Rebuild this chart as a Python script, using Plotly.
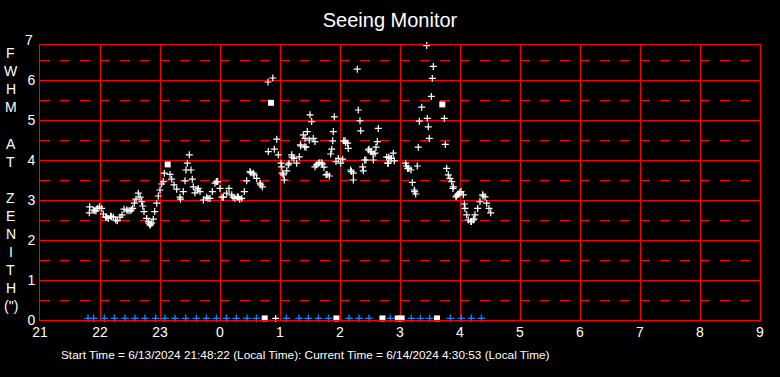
import plotly.graph_objects as go

# ---------------- data ----------------
# x: local time in hours, counted on from 21:00 (24 = midnight, 28.5 = 4:30)
x_tickvals = [21, 22, 23, 24, 25, 26, 27, 28, 29, 30, 31, 32, 33]
x_ticktext = ["21", "22", "23", "0", "1", "2", "3", "4", "5", "6", "7", "8", "9"]
y_tickvals = [0, 1, 2, 3, 4, 5, 6]
y_ticktext = ["0", "1", "2", "3", "4", "5", "6"]
y_minorvals = [0.5, 1.5, 2.5, 3.5, 4.5, 5.5, 6.5]

# FWHM measurements (arcsec) drawn as "+"
fwhm_time = [
    21.822, 21.828, 21.888, 21.912, 21.933, 21.955, 21.988, 22.028, 22.055, 22.095,
    22.112, 22.138, 22.178, 22.190, 22.222, 22.262, 22.288, 22.333, 22.367, 22.400,
    22.445, 22.467, 22.500, 22.523, 22.545, 22.572, 22.600, 22.638, 22.667, 22.695,
    22.712, 22.733, 22.778, 22.805, 22.817, 22.833, 22.840, 22.862, 22.888, 22.912,
    22.945, 22.972, 23.000, 23.028, 23.055, 23.072, 23.167, 23.195, 23.233, 23.278,
    23.333, 23.342, 23.388, 23.417, 23.433, 23.455, 23.488, 23.517, 23.538, 23.555,
    23.583, 23.623, 23.638, 23.667, 23.722, 23.778, 23.800, 23.833, 23.872, 23.917,
    23.940, 23.962, 24.000, 24.033, 24.055, 24.112, 24.150, 24.195, 24.217, 24.250,
    24.290, 24.305, 24.328, 24.362, 24.405, 24.445, 24.500, 24.512, 24.555, 24.568,
    24.612, 24.667, 24.678, 24.705, 24.800, 24.805, 24.880, 24.905, 24.928, 24.945,
    24.972, 25.017, 25.028, 25.038, 25.055, 25.072, 25.112, 25.138, 25.150, 25.195,
    25.200, 25.233, 25.278, 25.322, 25.340, 25.345, 25.388, 25.412, 25.417, 25.433,
    25.455, 25.488, 25.500, 25.528, 25.555, 25.583, 25.583, 25.607, 25.638, 25.662,
    25.695, 25.707, 25.733, 25.767, 25.785, 25.822, 25.845, 25.862, 25.878, 25.888,
    25.905, 25.933, 25.972, 26.012, 26.045, 26.062, 26.083, 26.095, 26.128, 26.138,
    26.178, 26.190, 26.222, 26.222, 26.288, 26.305, 26.333, 26.345, 26.378, 26.388,
    26.412, 26.433, 26.472, 26.483, 26.512, 26.523, 26.550, 26.555, 26.583, 26.600,
    26.622, 26.638, 26.778, 26.795, 26.805, 26.812, 26.833, 26.857, 26.888, 26.905,
    27.095, 27.107, 27.128, 27.145, 27.183, 27.205, 27.238, 27.245, 27.262, 27.288,
    27.305, 27.322, 27.362, 27.445, 27.455, 27.472, 27.488, 27.522, 27.538, 27.555,
    27.738, 27.755, 27.778, 27.805, 27.833, 27.862, 27.883, 27.888, 27.933, 27.940,
    27.957, 27.972, 27.995, 28.017, 28.055, 28.072, 28.083, 28.112, 28.138, 28.183,
    28.190, 28.222, 28.233, 28.250, 28.295, 28.333, 28.378, 28.383, 28.417, 28.445,
    28.483, 28.512,
]
fwhm_value = [
    2.68, 2.83, 2.75, 2.73, 2.73, 2.79, 2.83, 2.79, 2.65, 2.57,
    2.57, 2.54, 2.60, 2.58, 2.57, 2.50, 2.48, 2.57, 2.63, 2.77,
    2.75, 2.73, 2.73, 2.75, 2.79, 2.92, 3.02, 3.17, 3.07, 2.96,
    2.85, 2.71, 2.54, 2.46, 2.42, 2.38, 2.38, 2.42, 2.52, 2.71,
    2.92, 3.10, 3.25, 3.40, 3.46, 3.67, 3.64, 3.52, 3.38, 3.27,
    3.07, 3.02, 3.21, 3.48, 3.75, 3.92, 4.13, 3.75, 3.52, 3.33,
    3.18, 3.25, 3.29, 3.21, 3.00, 3.07, 3.04, 3.04, 3.21, 3.42,
    3.46, 3.46, 3.29, 3.07, 3.07, 3.17, 3.29, 3.13, 3.07, 3.04,
    3.08, 3.07, 3.02, 3.04, 3.21, 3.48, 3.71, 3.68, 3.67, 3.63,
    3.54, 3.42, 3.38, 3.33, 5.95, 4.21, 6.05, 4.27, 0.04, 4.52,
    4.13, 3.92, 3.83, 3.67, 3.63, 3.50, 3.73, 3.88, 3.92, 4.13,
    4.07, 4.04, 3.92, 4.08, 4.38, 4.35, 4.63, 4.33, 4.54, 4.32,
    4.71, 4.50, 5.13, 4.96, 4.54, 4.46, 3.83, 3.88, 3.92, 3.93,
    3.93, 3.90, 3.82, 3.63, 3.64, 3.60, 4.15, 4.27, 4.48, 4.71,
    5.08, 3.96, 4.04, 3.92, 4.02, 4.48, 4.48, 4.43, 4.42, 4.29,
    3.75, 3.71, 3.67, 3.50, 6.27, 5.25, 4.98, 4.73, 3.83, 3.73,
    4.00, 4.00, 4.25, 4.27, 4.21, 4.21, 4.15, 4.00, 4.17, 4.32,
    4.46, 4.79, 4.07, 3.92, 3.92, 4.07, 4.04, 4.04, 4.17, 3.98,
    3.92, 3.85, 3.79, 3.79, 3.75, 3.44, 3.25, 3.21, 3.15, 3.85,
    4.32, 4.97, 5.32, 6.86, 5.04, 4.83, 4.54, 5.59, 6.04, 6.34,
    5.04, 4.39, 3.79, 3.63, 3.54, 3.46, 3.29, 3.33, 3.08, 3.10,
    3.13, 3.15, 3.18, 3.21, 3.13, 2.90, 2.79, 2.63, 2.50, 2.46,
    2.46, 2.50, 2.52, 2.63, 2.79, 2.96, 3.13, 3.10, 3.08, 2.92,
    2.79, 2.68,
]

# FWHM measurements drawn as filled squares
square_time = [23.128, 24.850, 27.705]
square_value = [3.89, 5.43, 5.39]

# failed measurements (drawn on the zero line as white squares)
failed_time = [24.745, 25.940, 26.707, 26.962, 27.028, 27.617]
failed_value = [0.04, 0.04, 0.04, 0.04, 0.04, 0.04]

# status markers along the bottom (blue "+")
status_low_time = [
    21.800, 21.895, 22.073, 22.240, 22.417, 22.583, 22.750, 22.928, 23.083, 23.250,
    23.428, 23.607, 23.773, 23.940, 24.107, 24.273, 24.450, 24.607, 25.107, 25.317,
    25.473, 25.640, 25.807, 26.150, 26.317, 26.483, 26.840, 27.190, 27.340, 27.495,
    27.840, 28.023, 28.190, 28.357,
]
status_low_value = [
    0.04, 0.04, 0.04, 0.04, 0.04, 0.04, 0.04, 0.04, 0.04, 0.04,
    0.04, 0.04, 0.04, 0.04, 0.04, 0.04, 0.04, 0.04, 0.04, 0.04,
    0.04, 0.04, 0.04, 0.04, 0.04, 0.04, 0.04, 0.04, 0.04, 0.04,
    0.04, 0.04, 0.04, 0.04,
]

# status markers along the top (blue bars)
status_high_time = [
    21.895, 22.062, 22.228, 22.395, 22.562, 22.728, 22.895, 23.062, 23.228, 23.395,
    23.562, 23.728, 23.895, 24.062, 24.228, 24.395, 24.562, 24.728, 24.895, 25.062,
    25.228, 25.395, 25.562, 25.728, 25.895, 26.062, 26.228, 26.395, 26.562, 26.728,
    26.895, 27.062, 27.228, 27.395, 27.562, 27.728, 27.895, 28.062, 28.228, 28.405,
]
status_high_value = [
    6.94, 6.94, 6.94, 6.94, 6.94, 6.94, 6.94, 6.94, 6.94, 6.94,
    6.94, 6.94, 6.94, 6.94, 6.94, 6.94, 6.94, 6.94, 6.94, 6.94,
    6.94, 6.94, 6.94, 6.94, 6.94, 6.94, 6.94, 6.94, 6.94, 6.94,
    6.94, 6.94, 6.94, 6.94, 6.94, 6.94, 6.94, 6.94, 6.94, 6.94,
]

title_text = "Seeing Monitor"
y_title_letters = ["F", "W", "H", "M", "", "A", "T", "", "Z", "E", "N", "I", "T", "H", "(\")"]
footer_text = ("Start Time = 6/13/2024 21:48:22 (Local Time): "
               "Current Time = 6/14/2024 4:30:53 (Local Time)")

# ---------------- style ----------------
FONT = "Arial, Liberation Sans, sans-serif"
RED = "#ff0000"
BLUE = "#0a84ff"
WHITE = "#ffffff"
Y_TOP = 6.875
W, H = 780, 377
ML, MR, MT, MB = 40, 20, 45, 57
PLOT_H = H - MT - MB

fig = go.Figure()

fig.add_trace(go.Scatter(
    x=status_high_time, y=status_high_value, mode="markers", cliponaxis=False,
    marker=dict(symbol="line-ew", size=9.5, line=dict(width=5, color=BLUE)),
    hoverinfo="skip"))

fig.add_trace(go.Scatter(
    x=status_low_time, y=status_low_value, mode="markers", cliponaxis=False,
    marker=dict(symbol="cross-thin", size=5.5, line=dict(width=1.4, color=BLUE)),
    hoverinfo="skip"))

fig.add_trace(go.Scatter(
    x=fwhm_time, y=fwhm_value, mode="markers", cliponaxis=False,
    marker=dict(symbol="cross-thin", size=5, line=dict(width=1.2, color=WHITE)),
    hoverinfo="skip"))

fig.add_trace(go.Scatter(
    x=square_time + failed_time, y=square_value + failed_value, mode="markers",
    cliponaxis=False,
    marker=dict(symbol="square", size=6, color=WHITE, line=dict(width=0)),
    hoverinfo="skip"))

fig.update_layout(
    width=W, height=H,
    margin=dict(l=ML, r=MR, t=MT, b=MB, autoexpand=False),
    paper_bgcolor="black", plot_bgcolor="black",
    showlegend=False,
    font=dict(family=FONT, color=WHITE),
    title=dict(text=title_text, x=0.5, xref="container", xanchor="center",
               y=1 - 20 / H, yref="container", yanchor="middle",
               font=dict(family=FONT, size=20, color=WHITE)),
    xaxis=dict(range=[21, 33], tickmode="array", tickvals=x_tickvals, ticktext=x_ticktext,
               showgrid=True, gridcolor=RED, gridwidth=1, zeroline=False,
               showline=True, linecolor=RED, linewidth=1, mirror=True,
               ticks="", tickfont=dict(family=FONT, size=14, color=WHITE),
               ticklabelstandoff=-1),
    yaxis=dict(range=[0, Y_TOP], tickmode="array", tickvals=y_tickvals, ticktext=y_ticktext,
               showgrid=True, gridcolor=RED, gridwidth=1, zeroline=False,
               showline=True, linecolor=RED, linewidth=1, mirror=True,
               ticks="", tickfont=dict(family=FONT, size=14, color=WHITE),
               ticklabelstandoff=1,
               minor=dict(tickmode="array", tickvals=y_minorvals, showgrid=True,
                          gridcolor=RED, gridwidth=1, griddash="10px,10px", ticks="")),
)

# "7" tick label sits above the plotting area
fig.add_annotation(text="7", xref="paper", yref="paper", x=0, y=7 / Y_TOP,
                   xanchor="right", yanchor="middle", xshift=-5, showarrow=False,
                   font=dict(family=FONT, size=14, color=WHITE))

# vertical axis title, one letter per line (18 px apart)
for i, letter in enumerate(y_title_letters):
    if not letter:
        continue
    py = 53.3 + 18.05 * i
    fig.add_annotation(text=letter, xref="paper", yref="paper",
                       x=(11 - ML) / (W - ML - MR), y=(H - MB - py) / PLOT_H,
                       xanchor="center", yanchor="middle", showarrow=False,
                       font=dict(family=FONT, size=14, color=WHITE))

fig.add_annotation(text=footer_text, xref="paper", yref="paper",
                   x=(59 - ML) / (W - ML - MR), y=(H - MB - 355) / PLOT_H,
                   xanchor="left", yanchor="middle", showarrow=False,
                   font=dict(family=FONT, size=11.8, color=WHITE))

fig.write_html(
    "out.html",
    config={"displayModeBar": False},
    post_script="document.body.style.margin='0';document.body.style.background='black';",
)
